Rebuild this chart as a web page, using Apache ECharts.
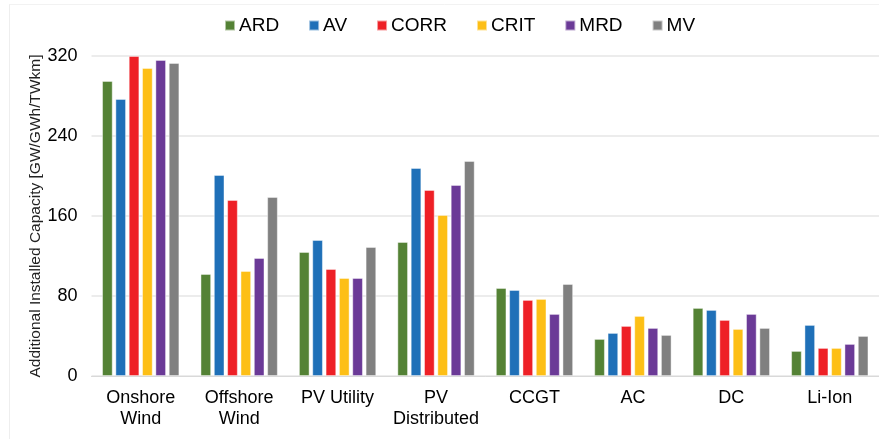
<!DOCTYPE html>
<html><head><meta charset="utf-8">
<script src="https://cdn.jsdelivr.net/npm/echarts@6/dist/echarts.min.js"></script>
<style>html,body{margin:0;padding:0;background:#fff}#c{width:879px;height:440px}</style>
</head><body><div id="c"></div>
<script>
var categories = ['Onshore\nWind','Offshore\nWind','PV Utility','PV\nDistributed','CCGT','AC','DC','Li-Ion'];
var seriesNames = ['ARD','AV','CORR','CRIT','MRD','MV'];
var ARD  = [295, 102, 124, 134, 88, 37, 68, 25];
var AV   = [277, 201, 136, 208, 86, 43, 66, 51];
var CORR = [320, 176, 107, 186, 76, 50, 56, 28];
var CRIT = [308, 105, 98, 161, 77, 60, 47, 28];
var MRD  = [316, 118, 98, 191, 62, 48, 62, 32];
var MV   = [313, 179, 129, 215, 92, 41, 48, 40];
var yTicks = [0, 80, 160, 240, 320];
var colors = ['#548235','#1f70b8','#ee2026','#fdbf16','#6b3a97','#808080'];
var data = [ARD, AV, CORR, CRIT, MRD, MV];
var font = 'Liberation Sans, Arial, Helvetica, sans-serif';

var chart = echarts.init(document.getElementById('c'));
chart.setOption({
  animation: false,
  color: colors,
  textStyle: {fontFamily: font},
  legend: {
    top: 16, left: 224, padding: 0,
    itemWidth: 10, itemHeight: 10, itemGap: 29,
    icon: 'rect',
    textStyle: {fontSize: 19, color: '#000', fontFamily: font, padding: [0,0,0,-1]},
    data: seriesNames
  },
  grid: {left: 91.5, right: -5, top: 56, bottom: 64, containLabel: false},
  xAxis: {
    type: 'category', data: categories,
    axisLine: {lineStyle: {color: '#d9d9d9', width: 1}},
    axisTick: {show: false},
    axisLabel: {fontSize: 18, color: '#000', margin: 12, lineHeight: 21, interval: 0, fontFamily: font}
  },
  yAxis: {
    type: 'value', min: yTicks[0], max: yTicks[yTicks.length-1], interval: 80,
    name: 'Additional Installed Capacity [GW/GWh/TWkm]',
    nameLocation: 'middle', nameGap: 47.5, nameMoveOverlap: false,
    nameTextStyle: {fontSize: 15.5, color: '#222', fontFamily: font},
    axisLine: {show: false}, axisTick: {show: false},
    axisLabel: {fontSize: 18, color: '#000', margin: 14, fontFamily: font},
    splitLine: {lineStyle: {color: '#e6e6e6', width: 1.5}}
  },
  graphic: [
    {type: 'line', shape: {x1: 9.5, y1: 4, x2: 9.5, y2: 439}, style: {stroke: '#eeeeee', lineWidth: 1}, silent: true},
    {type: 'line', shape: {x1: 9.5, y1: 4.5, x2: 879, y2: 4.5}, style: {stroke: '#f2f2f2', lineWidth: 1}, silent: true}
  ],
  series: seriesNames.map(function(n, i){
    return {
      name: n, type: 'bar', data: data[i],
      barWidth: 10.5, barGap: '27%',
      itemStyle: {color: colors[i], borderColor: 'rgba(255,255,255,0.55)', borderWidth: 0.8}
    };
  })
});
</script></body></html>
